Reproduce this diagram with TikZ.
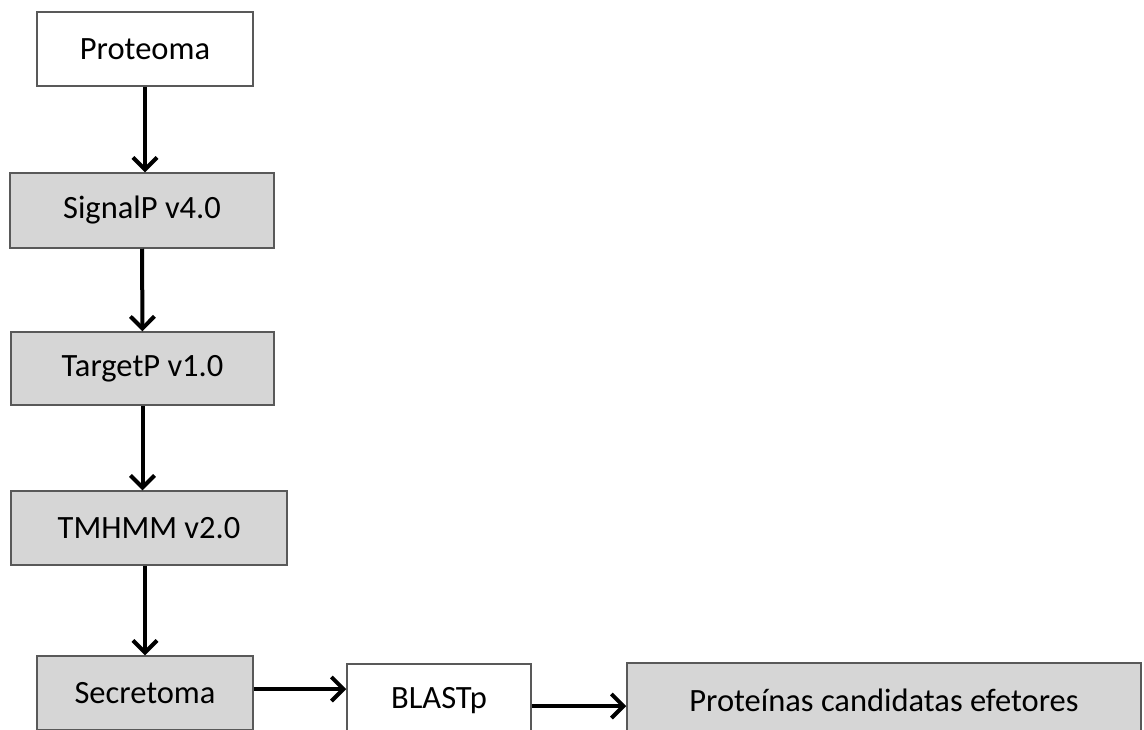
\documentclass[tikz,border=0pt]{standalone}
\usepackage{fontspec}
\setmainfont{Carlito}
\usepackage{tikz}
\usetikzlibrary{arrows.meta}

\tikzset{
  >={Straight Barb[length=12pt,width=24pt,line width=4pt]},
  box/.style={draw=black!65, line width=1.5pt, inner sep=0pt,
    font=\fontsize{32.5}{38}\selectfont},
  grey box/.style={box, fill=black!16},
  white box/.style={box, fill=white},
  flow/.style={->, line width=4pt}
}

\begin{document}
\begin{tikzpicture}[x=1pt, y=-1pt]
  \useasboundingbox (0,0) rectangle (1144,729);
  \clip (0,0) rectangle (1144,729);
  \node[white box, minimum width=216pt, minimum height=74pt] (proteoma) at (145,49) {Proteoma};
  \node[grey box, minimum width=264pt, minimum height=75pt] (signalp) at (142,210.5) {SignalP v4.0};
  \node[grey box, minimum width=263pt, minimum height=73pt] (targetp) at (142.5,368.5) {TargetP v1.0};
  \node[grey box, minimum width=276pt, minimum height=74pt] (tmhmm) at (149,528) {TMHMM v2.0};
  \node[grey box, minimum width=216pt, minimum height=74pt] (secretoma) at (145,693) {Secretoma};
  \node[white box, minimum width=184pt, minimum height=74pt] (blastp) at (439,701) {BLASTp};
  \node[grey box, minimum width=514pt, minimum height=74pt] (proteinas) at (884,700) {Proteínas candidatas efetores};
%  \path[flow]
  \draw[flow] (proteoma.south) -- (proteoma.south |- signalp.north);
  \draw[flow] (signalp.south) -- (targetp.north);
  \draw[flow] (targetp.south) -- (targetp.south |- tmhmm.north);
  \draw[flow] (tmhmm.south -| secretoma.north) -- (secretoma.north);
  \draw[flow] ([yshift=4pt]secretoma.east) -- ([yshift=4pt]secretoma.east -| blastp.west);
  \draw[flow] ([yshift=-5pt]blastp.east) -- ([yshift=-5pt]blastp.east -| proteinas.west);
\end{tikzpicture}
\end{document}
